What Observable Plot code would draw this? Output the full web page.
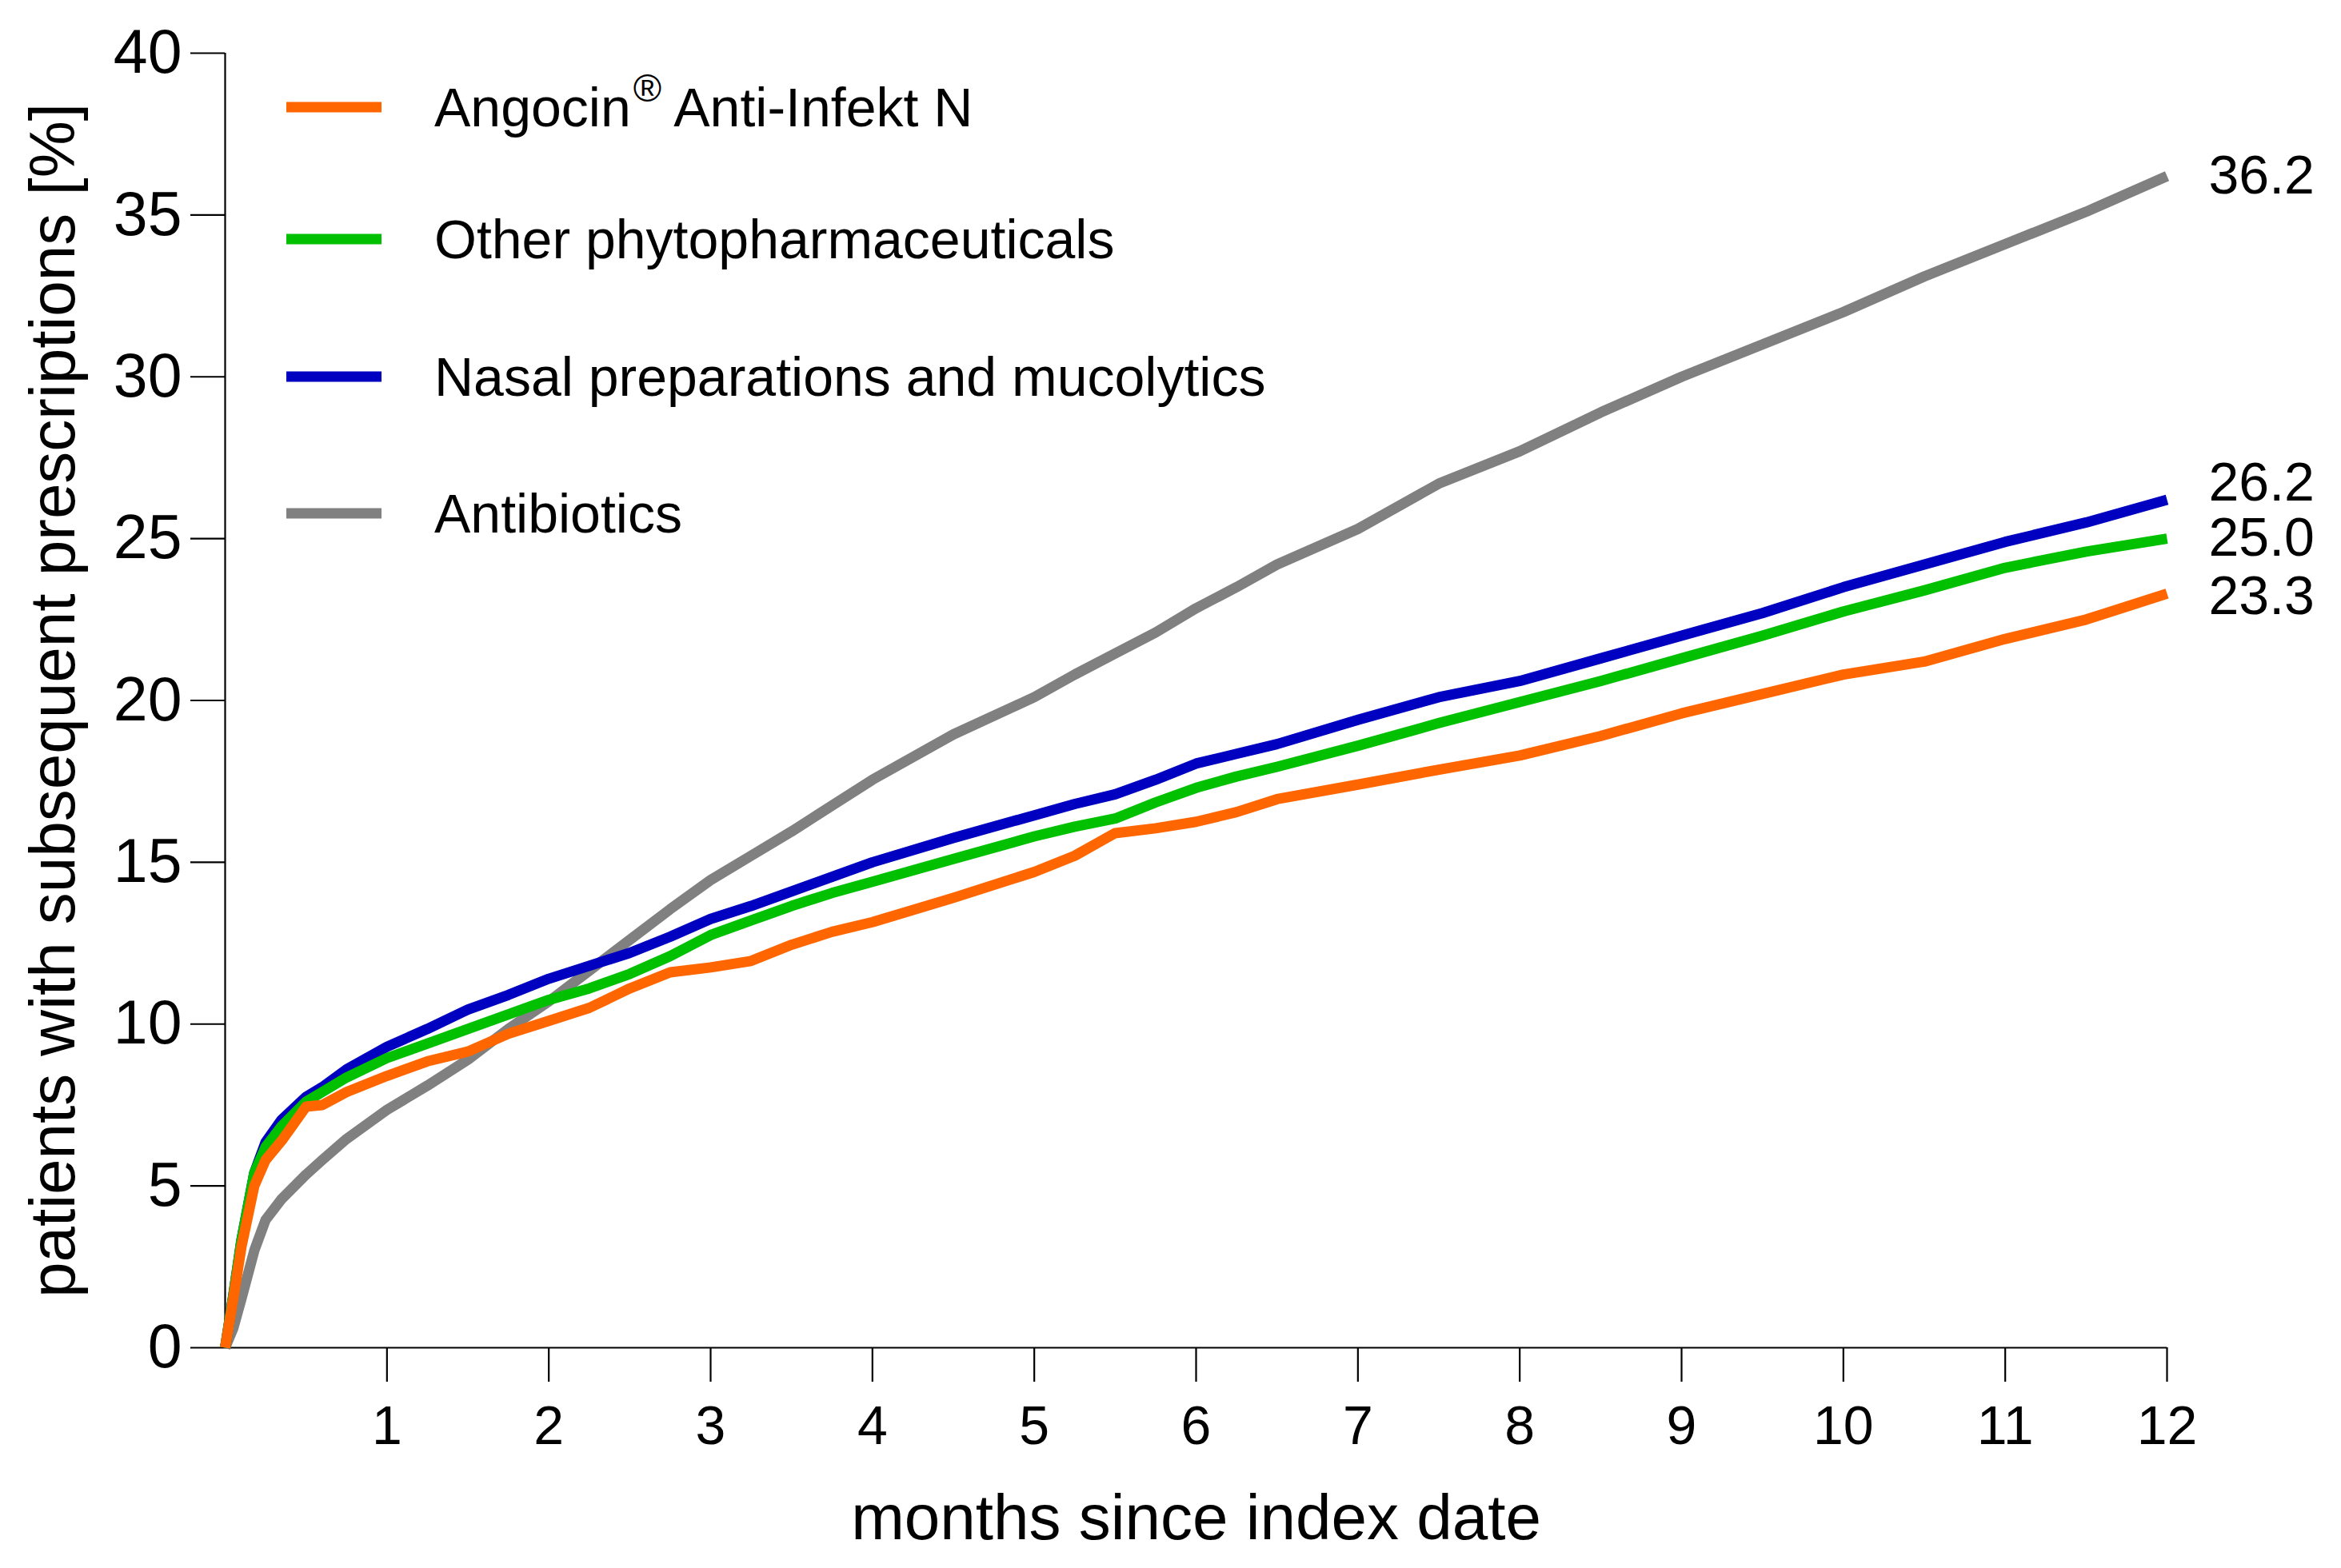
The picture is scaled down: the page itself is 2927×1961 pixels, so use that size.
<!DOCTYPE html>
<html>
<head>
<meta charset="utf-8">
<script src="https://cdn.jsdelivr.net/npm/d3@7"></script>
<script src="https://cdn.jsdelivr.net/npm/@observablehq/plot@0.6"></script>
<style>
html, body { margin: 0; padding: 0; background: #fff; overflow: hidden; }
#wrap { position: relative; width: 2927px; height: 1961px; }
</style>
</head>
<body>
<div id="wrap"></div>
<script>
// ---- data ----
const months = [0, 0.05, 0.1, 0.18, 0.25, 0.35, 0.5, 0.6, 0.75, 1, 1.25, 1.5, 1.75, 2, 2.25, 2.5, 2.75, 3, 3.25, 3.5, 3.75, 4, 4.5, 5, 5.25, 5.5, 5.75, 6, 6.25, 6.5, 7, 7.5, 8, 8.5, 9, 9.5, 10, 10.5, 11, 11.5, 12];

const antibiotics = [0, 0.6, 1.5, 3.0, 3.95, 4.6, 5.35, 5.8, 6.45, 7.35, 8.1, 8.9, 9.85, 10.7, 11.65, 12.6, 13.55, 14.45, 15.2, 15.95, 16.75, 17.55, 18.95, 20.1, 20.8, 21.45, 22.1, 22.85, 23.5, 24.2, 25.3, 26.7, 27.7, 28.9, 30.0, 31.0, 32.0, 33.1, 34.1, 35.1, 36.2];
const nasal       = [0, 1.6, 3.3, 5.4, 6.35, 7.05, 7.75, 8.05, 8.6, 9.3, 9.85, 10.45, 10.9, 11.4, 11.8, 12.2, 12.7, 13.25, 13.65, 14.1, 14.55, 15.0, 15.75, 16.45, 16.8, 17.1, 17.55, 18.05, 18.35, 18.65, 19.4, 20.1, 20.6, 21.3, 22.0, 22.7, 23.5, 24.2, 24.9, 25.5, 26.2];
const otherPhyto  = [0, 1.6, 3.3, 5.4, 6.2, 6.85, 7.6, 7.9, 8.35, 8.95, 9.4, 9.85, 10.3, 10.75, 11.1, 11.55, 12.1, 12.75, 13.2, 13.65, 14.05, 14.4, 15.1, 15.8, 16.1, 16.35, 16.85, 17.3, 17.65, 17.95, 18.6, 19.3, 19.95, 20.6, 21.3, 22.0, 22.75, 23.4, 24.1, 24.6, 25.0];
const angocin     = [0, 1.5, 3.1, 5.0, 5.8, 6.4, 7.45, 7.5, 7.9, 8.4, 8.85, 9.15, 9.7, 10.1, 10.5, 11.1, 11.6, 11.75, 11.95, 12.45, 12.85, 13.15, 13.9, 14.7, 15.2, 15.9, 16.05, 16.25, 16.55, 16.95, 17.4, 17.86, 18.3, 18.9, 19.6, 20.2, 20.8, 21.2, 21.9, 22.5, 23.3];

const seriesNames = ["Angocin® Anti-Infekt N", "Other phytopharmaceuticals", "Nasal preparations and mucolytics", "Antibiotics"];
const seriesValues = [angocin, otherPhyto, nasal, antibiotics];
const seriesColors = ["#ff6600", "#00c000", "#0000c0", "#808080"];

const xTicks = [1, 2, 3, 4, 5, 6, 7, 8, 9, 10, 11, 12];
const yTicks = [0, 5, 10, 15, 20, 25, 30, 35, 40];

// ---- styles / layout ----
const FONT = '"Liberation Sans", Arial, Helvetica, sans-serif';
const labelShift = [4, 0, -21, 0];      // vertical nudge of end labels (px)
const legendCenters = [134, 299, 471, 642];

// draw order: gray, blue, green, orange (orange on top)
const drawOrder = [3, 2, 1, 0];
const rows = drawOrder.flatMap(si => months.map((m, i) => ({series: seriesNames[si], month: m, value: seriesValues[si][i]})));

const endMarks = seriesNames.map((name, si) => {
  const v = seriesValues[si][seriesValues[si].length - 1];
  return Plot.text([{month: months[months.length - 1], value: v}], {
    x: "month", y: "value", text: d => d3.format(".1f")(d.value),
    textAnchor: "start", lineAnchor: "middle", dx: 52, dy: labelShift[si], fontSize: 68, fill: "black"
  });
});

const chart = Plot.plot({
  width: 2927,
  height: 1961,
  marginLeft: 281,
  marginRight: 218,
  marginTop: 66,
  marginBottom: 276,
  style: {fontFamily: FONT, background: "white", color: "black", overflow: "visible"},
  x: {domain: [0, 12]},
  y: {domain: [0, 40]},
  color: {domain: seriesNames, range: seriesColors},
  marks: [
    Plot.axisY({ticks: yTicks, tickSize: 43, tickPadding: 11, fontSize: 77, strokeWidth: 2.2, label: null, tickFormat: d => String(d)}),
    Plot.axisX({ticks: xTicks, tickSize: 43, tickPadding: 29, fontSize: 68, strokeWidth: 2.2, label: null, tickFormat: d => String(d)}),
    Plot.ruleX([0], {y1: 0, y2: 40, stroke: "black", strokeWidth: 2.2}),
    Plot.ruleY([0], {x1: 0, x2: 12, stroke: "black", strokeWidth: 2.2}),
    Plot.line(rows, {x: "month", y: "value", z: "series", stroke: "series", strokeWidth: 13, strokeLinecap: "butt", strokeLinejoin: "round"}),
    ...endMarks,
    Plot.text(["patients with subsequent prescriptions [%]"], {text: d => d, frameAnchor: "left", rotate: -90, dx: -189, lineAnchor: "bottom", textAnchor: "middle", fontSize: 80, fill: "black"}),
    Plot.text(["months since index date"], {text: d => d, frameAnchor: "bottom", dy: 239, lineAnchor: "bottom", textAnchor: "middle", fontSize: 80, fill: "black"})
  ]
});

document.getElementById("wrap").appendChild(chart);

// ---- legend (inside the plot area, top-left) ----
const svg = d3.select(chart);
const leg = svg.append("g").attr("font-family", FONT).attr("fill", "black").attr("text-anchor", "start");
seriesNames.forEach((name, i) => {
  const cy = legendCenters[i];
  leg.append("rect").attr("x", 358).attr("y", cy - 6.5).attr("width", 119).attr("height", 13).attr("fill", seriesColors[i]);
  const t = leg.append("text").attr("x", 543).attr("y", cy + 24).attr("font-size", 68).attr("text-anchor", "start");
  if (name.includes("®")) {
    const [a, b] = name.split("®");
    t.append("tspan").text(a);
    t.append("tspan").attr("font-size", 48).attr("dx", 3).attr("dy", -31).text("®");
    t.append("tspan").attr("font-size", 68).attr("dy", 31).text(b);
  } else {
    t.text(name);
  }
});
</script>
</body>
</html>
